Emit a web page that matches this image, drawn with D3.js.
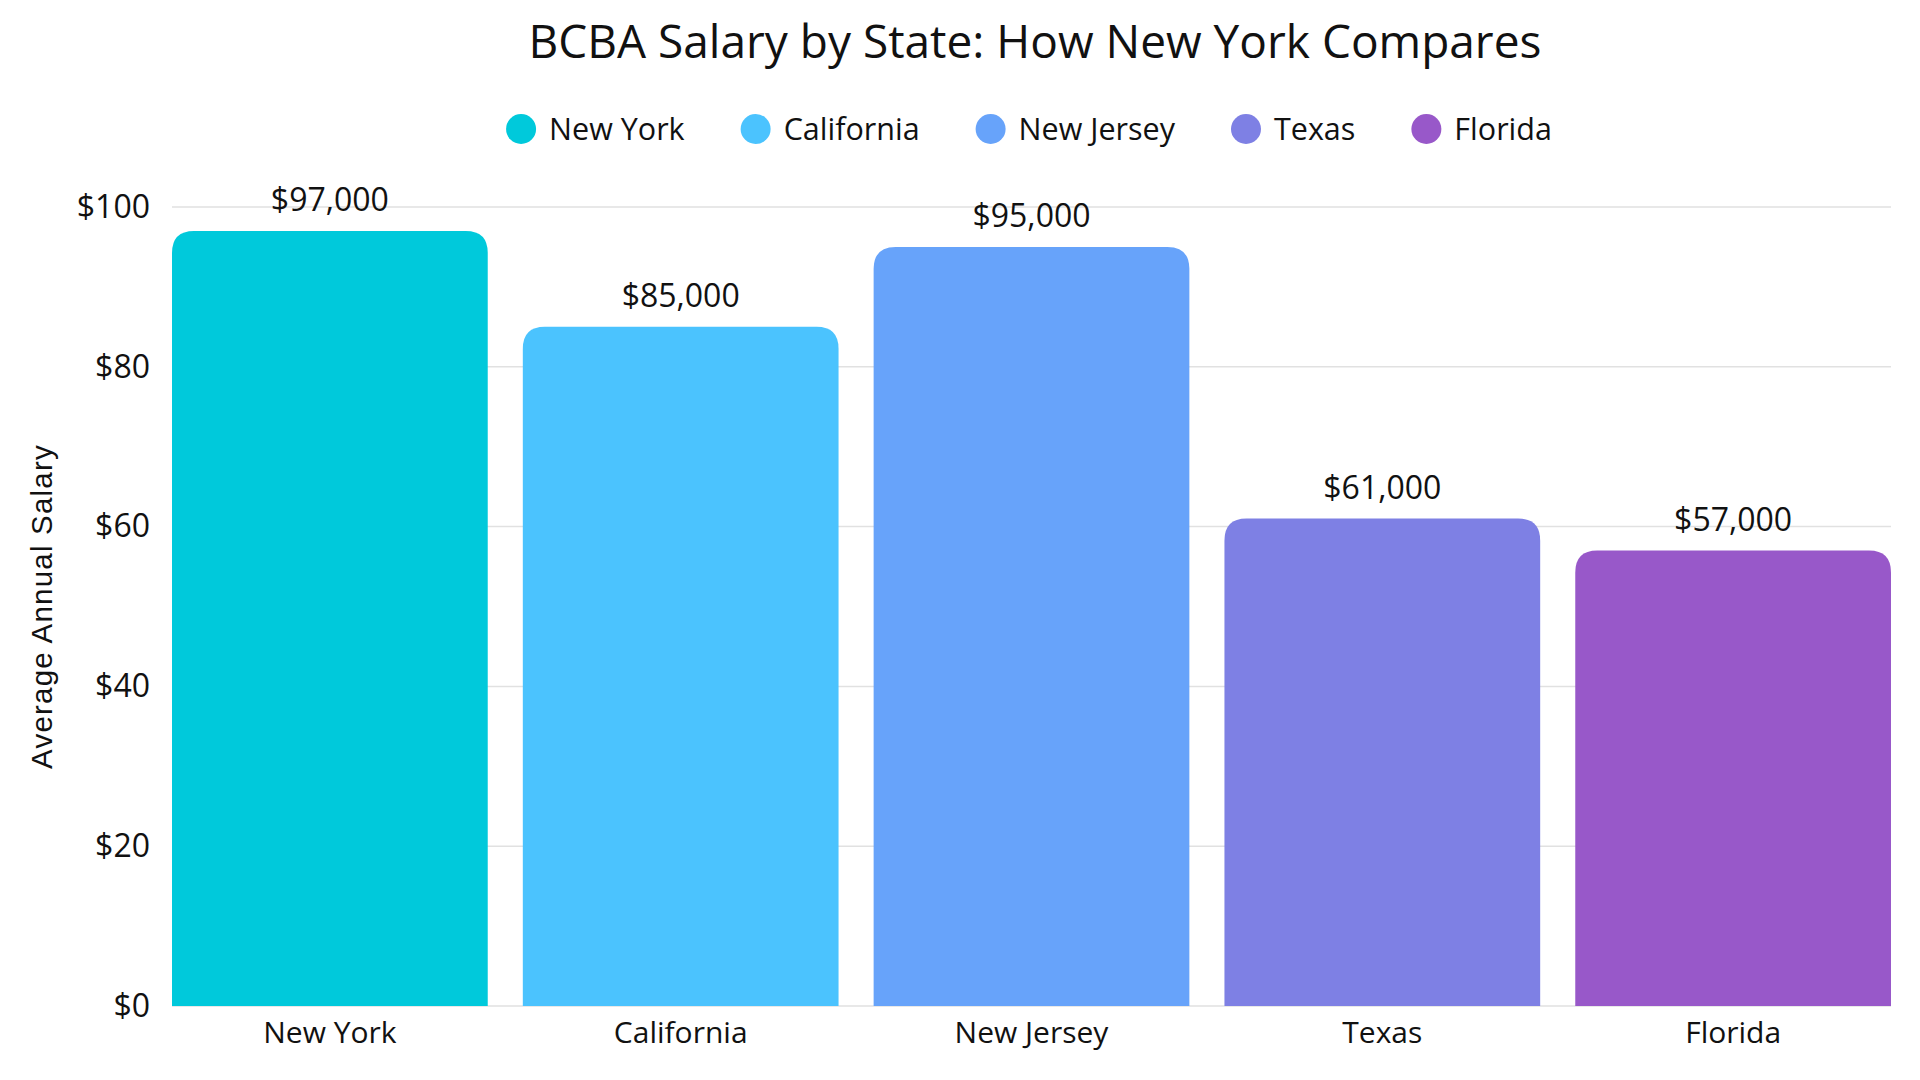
<!DOCTYPE html>
<html>
<head>
<meta charset="utf-8">
<script src="https://cdn.jsdelivr.net/npm/d3@7"></script>
<style>
  html, body { margin: 0; padding: 0; background: #fff; }
  svg { display: block; }
</style>
</head>
<body>
<svg id="chart"></svg>
<script>
// chart data
const states = ["New York", "California", "New Jersey", "Texas", "Florida"];
const salaries = [97, 85, 95, 61, 57]; // thousands of dollars
const colors = ["#00c9db", "#4bc3fe", "#67a3fa", "#7e80e4", "#9858c9"];
const yTicks = [0, 20, 40, 60, 80, 100];
const title = "BCBA Salary by State: How New York Compares";
const yTitle = "Average Annual Salary";

const W = 1920, H = 1080;
const margin = { top: 207, right: 29, bottom: 74, left: 172 };
const width = W - margin.left - margin.right;
const height = H - margin.top - margin.bottom;

const svg = d3.select("#chart").attr("width", W).attr("height", H);

const x = d3.scaleBand()
  .domain(states)
  .range([0, width])
  .paddingInner(0.1)
  .paddingOuter(0);

const y = d3.scaleLinear()
  .domain([0, 100])
  .range([height, 0]);

const g = svg.append("g")
  .attr("transform", "translate(" + margin.left + "," + margin.top + ")");

// gridlines
g.append("g")
  .selectAll("line")
  .data(yTicks)
  .join("line")
  .attr("x1", 0)
  .attr("x2", width)
  .attr("y1", d => y(d))
  .attr("y2", d => y(d))
  .attr("stroke", "#e1e1e1")
  .attr("stroke-width", 1.5);

// y axis labels
const yAxis = g.append("g")
  .call(d3.axisLeft(y).tickValues(yTicks).tickFormat(d => "$" + d).tickSize(0).tickPadding(22));
yAxis.select(".domain").remove();
yAxis.selectAll("text")
  .attr("font-family", "'Open Sans', sans-serif")
  .attr("font-size", 32)
  .attr("fill", "#111");

// x axis labels
const xAxis = g.append("g")
  .attr("transform", "translate(0," + height + ")")
  .call(d3.axisBottom(x).tickSize(0).tickPadding(16));
xAxis.select(".domain").remove();
xAxis.selectAll("text")
  .attr("font-family", "'Open Sans', sans-serif")
  .attr("font-size", 30)
  .attr("fill", "#111");

// bars with rounded top corners
const radius = 22;
function topRounded(x0, y0, w, h, r) {
  r = Math.min(r, h, w / 2);
  return "M" + x0 + "," + (y0 + h) +
    "V" + (y0 + r) +
    "Q" + x0 + "," + y0 + " " + (x0 + r) + "," + y0 +
    "H" + (x0 + w - r) +
    "Q" + (x0 + w) + "," + y0 + " " + (x0 + w) + "," + (y0 + r) +
    "V" + (y0 + h) + "Z";
}

g.append("g")
  .selectAll("path")
  .data(states)
  .join("path")
  .attr("fill", (d, i) => colors[i])
  .attr("d", (d, i) => topRounded(x(d), y(salaries[i]), x.bandwidth(), height - y(salaries[i]), radius));

// value labels
const fmt = d3.format("$,.0f");
g.append("g")
  .selectAll("text")
  .data(states)
  .join("text")
  .attr("x", d => x(d) + x.bandwidth() / 2)
  .attr("y", (d, i) => y(salaries[i]) - 20)
  .attr("text-anchor", "middle")
  .attr("font-family", "'Open Sans', sans-serif")
  .attr("font-size", 32)
  .attr("fill", "#111")
  .text((d, i) => fmt(salaries[i] * 1000));

// y axis title
svg.append("text")
  .attr("transform", "translate(52," + (margin.top + height / 2) + ") rotate(-90)")
  .attr("text-anchor", "middle")
  .attr("font-family", "'Liberation Sans', Arial, sans-serif")
  .attr("font-size", 29.5)
  .attr("letter-spacing", 1.2)
  .attr("fill", "#111")
  .text(yTitle);

// title
svg.append("text")
  .attr("x", 1035)
  .attr("y", 58)
  .attr("text-anchor", "middle")
  .attr("font-family", "'Open Sans', sans-serif")
  .attr("font-size", 46)
  .attr("fill", "#111")
  .text(title);

// legend
const legend = svg.append("g").attr("transform", "translate(0,129)");
let cursor = 0;
const items = legend.selectAll("g")
  .data(states)
  .join("g");
items.append("circle")
  .attr("r", 15)
  .attr("fill", (d, i) => colors[i]);
items.append("text")
  .attr("x", 28)
  .attr("y", 10.5)
  .attr("font-family", "'Open Sans', sans-serif")
  .attr("font-size", 30.5)
  .attr("fill", "#111")
  .text(d => d);
items.each(function () {
  const item = d3.select(this);
  item.attr("transform", "translate(" + cursor + ",0)");
  cursor += 28 + item.select("text").node().getComputedTextLength() + 71;
});
const legendWidth = cursor - 71 + 15;
legend.attr("transform", "translate(" + (1029 - legendWidth / 2 + 15) + ",129)");
</script>
</body>
</html>
